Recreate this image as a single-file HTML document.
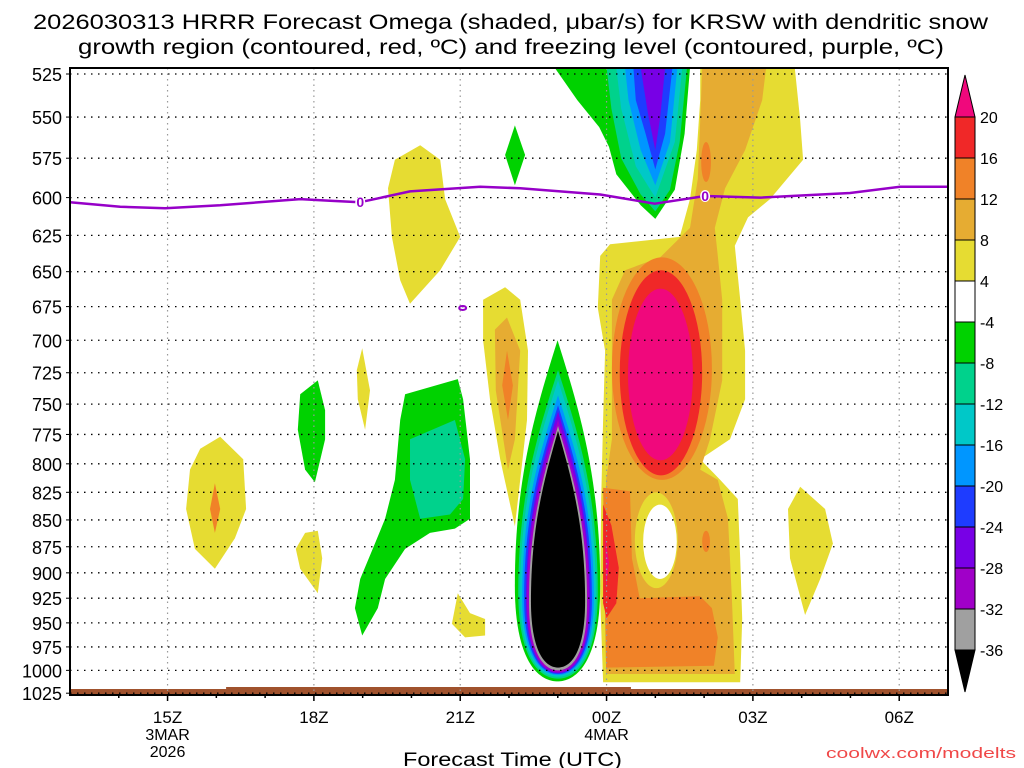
<!DOCTYPE html>
<html><head><meta charset="utf-8">
<style>
html,body{margin:0;padding:0;background:#fff;}
svg{display:block;font-family:"Liberation Sans",sans-serif;}
</style></head>
<body>
<svg id="chart" width="1024" height="768" viewBox="0 0 1024 768" xmlns="http://www.w3.org/2000/svg">
<text x="33" y="29" font-size="21" textLength="955" lengthAdjust="spacingAndGlyphs">2026030313 HRRR Forecast Omega (shaded, μbar/s) for KRSW with dendritic snow</text>
<text x="78" y="54" font-size="21" textLength="866" lengthAdjust="spacingAndGlyphs">growth region (contoured, red, ºC) and freezing level (contoured, purple, ºC)</text>
<g id="shapes"></g>
<g id="grid"></g>
<g id="fzl"></g>
<g id="axes"></g>
<g id="cbar"></g>
<text x="403" y="766" font-size="19" textLength="219" lengthAdjust="spacingAndGlyphs">Forecast Time (UTC)</text>
<text x="826" y="758" font-size="15" fill="#f04848" textLength="190" lengthAdjust="spacingAndGlyphs">coolwx.com/modelts</text>
</svg>
<script>
// ---- data ----
const pressureTicks = [525,550,575,600,625,650,675,700,725,750,775,800,825,850,875,900,925,950,975,1000,1025];
const timeTickHours = [15,18,21,24,27,30];
const timeTickLabels = ["15Z","18Z","21Z","00Z","03Z","06Z"];
const dateLabels = [[15,["3MAR","2026"]],[24,["4MAR"]]];
const cbarLevels = [20,16,12,8,4,-4,-8,-12,-16,-20,-24,-28,-32,-36];
const cbarColors = ["#f02828","#f08228","#e6ac32","#e6dc32","#ffffff","#00d200","#00d28c","#00c8c8","#0096ff","#1e3cff","#7800e6","#a000c8","#a0a0a0"];
const freezingHours = [13,14.03,14.95,16.08,17.72,18.33,18.95,19.97,21.41,22.23,23.87,24.99,26.02,27.15,28.99,30.02,31];
const freezingP = [603,606,607,605,601,602,603,596,593,594,598,604,599,600,597,593,593];
// downdraft column contours: [color, topP, bottomP, leftH, rightH]
const downdraftLevels = [
 ["#00d200",700,1012,22.12,23.87],
 ["#00d28c",723,1009,22.19,23.82],
 ["#00c8c8",731,1007,22.23,23.78],
 ["#0096ff",743,1005,22.27,23.74],
 ["#1e3cff",751,1004,22.31,23.70],
 ["#7800e6",756,1003,22.35,23.66],
 ["#a000c8",763,1002,22.37,23.64],
 ["#a0a0a0",768,1000,22.41,23.60],
 ["#000000",772,997,22.45,23.56]
];
// polygon regions [color, [[hour,hPa],...]]
const regions = [
 ["#e6dc32",[[25.92,521.6],[27.86,521.6],[27.97,552],[28.03,576],[27.35,601],[26.90,613],[26.63,632],[26.74,670],[26.84,708],[26.84,746],[26.53,779],[25.92,796],[26.33,814],[26.69,831],[26.74,886],[26.78,946],[26.74,1013],[23.93,1013],[23.87,925],[23.89,831],[23.93,763],[23.97,708],[23.82,676],[23.87,639],[24.07,631],[25.5,626],[25.71,601],[25.85,570],[25.92,540]]],
 ["#e6ac32",[[25.96,521.6],[27.27,521.6],[27.19,540],[26.84,570],[26.43,594],[26.22,620],[26.28,639],[26.37,670],[26.37,731],[26.12,779],[25.92,805],[26.28,814],[26.49,849],[26.57,925],[26.63,1004],[23.99,1004],[23.95,886],[23.99,814],[24.11,779],[24.11,670],[24.38,649],[25.1,640],[25.71,620],[25.87,588],[25.92,552]]],
 ["#f08228",[[23.93,821],[24.48,824],[24.52,886],[24.68,925],[25.92,923],[26.16,935],[26.28,965],[26.2,995],[23.99,997]]],
 ["#f02828",[[23.93,836],[24.1,855],[24.25,895],[24.2,930],[24.0,945],[23.93,930]]],
 ["#f0087c",[[23.97,865],[24.05,890],[23.99,915]]],
 ["#e6dc32",[[19.66,576],[20.18,567],[20.59,576],[20.69,601],[21.0,626],[20.59,649],[19.97,673],[19.77,656],[19.60,626],[19.52,594]]],
 ["#e6dc32",[[21.47,670],[21.92,661],[22.23,670],[22.39,708],[22.37,763],[22.23,814],[22.12,856],[21.82,796],[21.61,746],[21.47,700]]],
 ["#e6ac32",[[21.71,692],[21.96,683],[22.23,708],[22.12,779],[21.98,805],[21.73,739]]],
 ["#f08228",[[21.96,708],[22.08,735],[21.98,763],[21.86,735]]],
 ["#00d200",[[18.84,935],[18.95,906],[19.25,872],[19.46,849],[19.66,814],[19.77,763],[19.87,742],[20.95,730],[21.06,746],[21.20,796],[21.20,849],[20.89,858],[20.38,862],[19.87,877],[19.46,906],[19.31,935],[18.99,963]]],
 ["#00d28c",[[19.97,779],[20.89,763],[21.10,796],[21.06,831],[20.79,845],[20.18,849],[19.97,814]]],
 ["#00d200",[[17.72,742],[18.08,731],[18.23,755],[18.23,779],[18.02,816],[17.82,805],[17.67,771]]],
 ["#e6dc32",[[18.99,706],[19.15,739],[19.05,771],[18.90,746],[18.88,723]]],
 ["#e6dc32",[[15.67,787],[16.08,777],[16.55,796],[16.61,840],[16.38,867],[15.97,896],[15.56,877],[15.38,840],[15.46,805]]],
 ["#f08228",[[15.97,817],[16.08,840],[15.97,862],[15.87,840]]],
 ["#e6dc32",[[17.82,862],[18.08,860],[18.17,886],[18.08,920],[17.72,896],[17.63,877]]],
 ["#e6dc32",[[20.95,920],[21.20,940],[21.51,946],[21.51,963],[21.10,965],[20.83,951]]],
 ["#e6dc32",[[27.97,820],[28.48,840],[28.64,872],[28.38,906],[28.07,942],[27.76,886],[27.72,840]]],
 ["#00d200",[[22.12,555],[22.33,573],[22.12,592],[21.92,573]]],
 ["#00d200",[[22.94,521.6],[25.71,521.6],[25.6,560],[25.4,595],[25.0,614],[24.7,605],[24.2,585],[24.05,568],[23.85,556],[23.4,540]]],
 ["#00d28c",[[24.0,521.6],[25.65,521.6],[25.5,565],[25.3,595],[25.0,609],[24.7,598],[24.3,575],[24.1,545]]],
 ["#00c8c8",[[24.2,521.6],[25.55,521.6],[25.4,565],[25.0,600],[24.6,580],[24.3,545]]],
 ["#0096ff",[[24.38,521.6],[25.45,521.6],[25.3,565],[25.0,592],[24.7,570],[24.45,540]]],
 ["#1e3cff",[[24.55,521.6],[25.35,521.6],[25.2,560],[25.0,582],[24.8,560],[24.6,540]]],
 ["#7800e6",[[24.7,521.6],[25.2,521.6],[25.1,550],[25.0,570],[24.85,548]]]
];
// elliptical cells [color, topP, bottomP, leftH, rightH]
const cells = [
 ["#f08228",640,814,24.11,26.16],
 ["#f02828",649,810,24.27,25.96],
 ["#f0087c",662,797,24.44,25.77],
 ["#e6dc32",825,915,24.58,25.46],
 ["#ffffff",836,906,24.75,25.44],
 ["#f08228",860,880,25.96,26.12],
 ["#f08228",565,590,25.94,26.14]
];
// ---- scales ----
const X0=70,X1=948,Y0=68,Y1=695,H0=13,H1=31,P0=521.6,P1=1027;
const xs=h=>X0+(h-H0)/(H1-H0)*(X1-X0);
const ys=p=>Y0+Math.log(p/P0)/Math.log(P1/P0)*(Y1-Y0);
const NS="http://www.w3.org/2000/svg";
function mk(tag,attrs,parent){const e=document.createElementNS(NS,tag);for(const k in attrs)e.setAttribute(k,attrs[k]);parent.appendChild(e);return e;}
const shapes=document.getElementById('shapes');
regions.forEach(r=>{
 const pts=r[1].map(q=>xs(q[0]).toFixed(1)+","+ys(q[1]).toFixed(1)).join(" ");
 const el=mk('polygon',{points:pts,fill:r[0]},shapes);
 
 
});
cells.forEach(c=>{
 const yt=ys(c[1]),yb=ys(c[2]),xl=xs(c[3]),xr=xs(c[4]);
 const el=mk('ellipse',{cx:(xl+xr)/2,cy:(yt+yb)/2,rx:(xr-xl)/2,ry:(yb-yt)/2,fill:c[0]},shapes);
 
 
});
downdraftLevels.forEach(d=>{
 const yt=ys(d[1]),yb=ys(d[2]),xl=xs(d[3]),xr=xs(d[4]);
 const cx=(xl+xr)/2,hw=(xr-xl)/2,H=yb-yt;
 const dstr=`M${cx},${yt} C${cx+hw*0.5},${yt+H*0.2} ${xr},${yt+H*0.4} ${xr},${yt+H*0.72} C${xr},${yb-H*0.06} ${cx+hw*0.45},${yb} ${cx},${yb} C${cx-hw*0.45},${yb} ${xl},${yb-H*0.06} ${xl},${yt+H*0.72} C${xl},${yt+H*0.4} ${cx-hw*0.5},${yt+H*0.2} ${cx},${yt} Z`;
 const el=mk('path',{d:dstr,fill:d[0]},shapes);
 
 
});
const g1=mk('rect',{x:X0,y:689,width:X1-X0,height:Y1-689,fill:"#a0522d"},shapes);


const g2=mk('rect',{x:xs(16.2),y:687,width:xs(24.5)-xs(16.2),height:3,fill:"#a0522d"},shapes);


const grid=document.getElementById('grid');
pressureTicks.forEach(p=>{
 const el=mk('line',{x1:X0,x2:X1,y1:ys(p),y2:ys(p),stroke:"#000","stroke-width":1.3,"stroke-dasharray":"1.5 5.5"},grid);
 
 
});
timeTickHours.forEach(h=>{
 const el=mk('line',{x1:xs(h),x2:xs(h),y1:Y0,y2:Y1,stroke:"#999","stroke-width":1.2,"stroke-dasharray":"1.5 4"},grid);
 
 
});
const fz=document.getElementById('fzl');
const fpts=freezingHours.map((h,i)=>xs(h).toFixed(1)+","+ys(freezingP[i]).toFixed(1)).join(" ");
const fl=mk('polyline',{points:fpts,fill:"none",stroke:"#9600c8","stroke-width":2.5,"stroke-linejoin":"round"},fz);


[[18.95,603],[26.02,599]].forEach(q=>{
 const bg=mk('ellipse',{cx:xs(q[0]),cy:ys(q[1]),rx:5,ry:6,fill:"#fff"},fz);
 
 
 const t=mk('text',{x:xs(q[0]),y:ys(q[1])+5,"text-anchor":"middle","font-size":14,"font-weight":"bold",fill:"#9600c8"},fz);
 t.textContent="0";
 
 
});
const sm=mk('ellipse',{cx:xs(21.05),cy:ys(676),rx:3.5,ry:2,fill:"none",stroke:"#9600c8","stroke-width":2},fz);


const ax=document.getElementById('axes');
const fr=mk('rect',{x:X0,y:Y0,width:X1-X0,height:Y1-Y0,fill:"none",stroke:"#000","stroke-width":2},ax);


pressureTicks.forEach(p=>{
 const t=mk('text',{x:62,y:ys(p)+7,"text-anchor":"end","font-size":18},ax);
 t.textContent=p;
 
 
 const tk=mk('line',{x1:X0-4,x2:X0,y1:ys(p),y2:ys(p),stroke:"#000","stroke-width":1},ax);
 
 
});
for(let h=H0+1;h<H1;h++){
 const big=timeTickHours.includes(h);
 const tk=mk('line',{x1:xs(h),x2:xs(h),y1:Y1,y2:Y1+(big?6:3),stroke:"#000","stroke-width":1.5},ax);
 
 
}
timeTickHours.forEach((h,i)=>{
 const t=mk('text',{x:xs(h),y:723,"text-anchor":"middle","font-size":17},ax);
 t.textContent=timeTickLabels[i];
 
 
});
dateLabels.forEach(d=>{
 d[1].forEach((s,j)=>{
  const t=mk('text',{x:xs(d[0]),y:740+j*17,"text-anchor":"middle","font-size":16},ax);
  t.textContent=s;
  
  
 });
});
const cb=document.getElementById('cbar');
const CBX=955,CBW=20,cy0=117,cstep=41;
const tp=mk('polygon',{points:`${CBX},${cy0} ${CBX+CBW},${cy0} ${CBX+CBW/2},${cy0-42}`,fill:"#f0087c",stroke:"#000","stroke-width":1},cb);


cbarColors.forEach((c,i)=>{
 const r=mk('rect',{x:CBX,y:cy0+i*cstep,width:CBW,height:cstep,fill:c,stroke:"#000","stroke-width":1},cb);
 
 
});
const yb=cy0+cbarColors.length*cstep;
const bp=mk('polygon',{points:`${CBX},${yb} ${CBX+CBW},${yb} ${CBX+CBW/2},${yb+42}`,fill:"#000",stroke:"#000","stroke-width":1},cb);


cbarLevels.forEach((v,i)=>{
 const t=mk('text',{x:980,y:cy0+i*cstep+6,"font-size":16},cb);
 t.textContent=v;
 
 
});
</script>
</body></html>
